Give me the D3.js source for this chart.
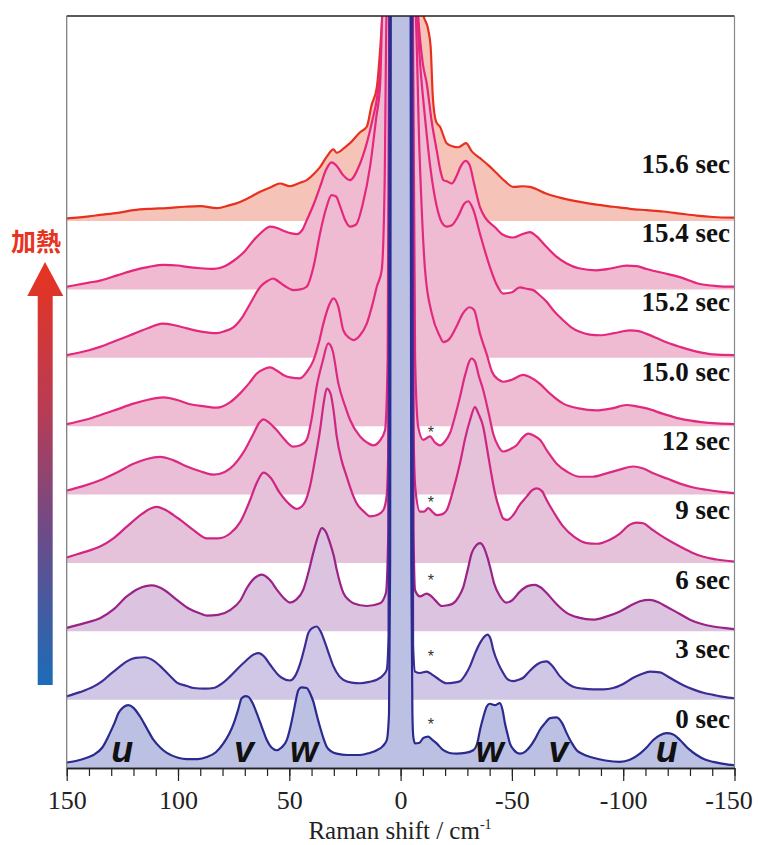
<!DOCTYPE html>
<html><head><meta charset="utf-8">
<script src="https://cdn.jsdelivr.net/npm/d3@7"></script>
<style>body{margin:0;background:#fff}svg{display:block}</style>
</head><body>
<svg id="chart" width="758" height="845"></svg>
<script>
// ---- data ----
const timeLabels = ["0 sec","3 sec","6 sec","9 sec","12 sec","15.0 sec","15.2 sec","15.4 sec","15.6 sec"];
const traceOffsets = [0,10,20,30,40,50,60,70,80];
const majorTicks = [150,100,50,0,-50,-100,-150];
const minorTicks = [150,140,130,120,110,100,90,80,70,60,50,40,30,20,10,0,-10,-20,-30,-40,-50,-60,-70,-80,-90,-100,-110,-120,-130,-140,-150];
const bandLabels = [["u",125.1],["v",70.3],["w",43.4],["w",-40.1],["v",-70.9],["u",-119.6]];
const starX = -13.6;
const starHeights = [6.3,6.3,7.5,8.9,9.1]; // for 0,3,6,9,12 sec

const spec0 = [[150,0.8],[145,1.1],[141,1.5],[138,1.9],[134,3.0],[130.6,5.1],[128.5,6.6],[126.8,8.0],[124.5,8.9],[122.3,9.2],[120,8.8],[117,7.5],[114,5.8],[111,4.1],[108,3.0],[105,2.2],[100,1.5],[96,1.3],[91,1.3],[87,1.6],[83,2.3],[79.6,3.6],[77,5.0],[75,6.5],[73,8.5],[71.4,10.2],[69.5,10.5],[68.4,10.4],[66.5,9.5],[64.6,8.0],[62,5.7],[60.1,4.1],[58,3.0],[55.6,2.6],[53.5,3.0],[51.1,4.1],[49.5,6.0],[48.2,8.0],[47,10.0],[45.9,11.4],[44.5,11.8],[42.2,11.7],[40.5,10.8],[39.2,9.7],[37.7,7.8],[36.2,6.0],[34.5,4.2],[33.2,3.1],[31,2.4],[28.7,2.1],[24,1.9],[18.2,1.9],[14,2.2],[10.7,2.6],[8,3.2],[6.2,4.1],[5.2,8],[4.7,30],[4.4,112],[0,120],[-4.5,112],[-4.8,30],[-5.3,8],[-5.7,4.6],[-6.5,3.6],[-8.5,3.7],[-10.2,4.4],[-12.4,4.6],[-14,4.2],[-16.2,3.6],[-19.2,2.6],[-22,2.2],[-25.2,2.1],[-29,2.2],[-32.6,2.6],[-34.5,3.7],[-35.7,5.6],[-37.2,7.5],[-38.7,9.0],[-40.1,9.4],[-42.4,9.2],[-44.6,9.5],[-45.8,8.5],[-46.9,6.5],[-48,5.0],[-49.1,3.6],[-51,2.6],[-53.6,2.1],[-56,2.4],[-58.1,3.1],[-60.5,4.3],[-62.6,5.6],[-65,6.6],[-67.1,7.3],[-70.1,7.4],[-72.5,6.6],[-74.6,5.1],[-77,3.6],[-79.1,2.6],[-82,2.0],[-86.5,1.5],[-92,1.1],[-98.5,0.9],[-103,1.2],[-107.5,2.1],[-110.5,3.0],[-113.5,4.1],[-116.5,4.8],[-119.5,5.1],[-122.5,4.9],[-125.5,4.1],[-129,2.9],[-133,1.9],[-137,1.2],[-140.4,0.9],[-145,0.6],[-150,0.4]];
const spec3 = [[150,0.5],[144,1.1],[138,1.9],[134,2.7],[130.5,3.7],[127,4.6],[123,5.6],[119,6.1],[115,6.2],[111,5.7],[108,4.9],[104,3.6],[100.5,2.5],[96,2.0],[93,1.7],[88,1.6],[84,1.7],[80,2.4],[76.6,3.4],[73,4.6],[69.1,5.8],[66,6.6],[63.9,6.8],[61,6.2],[58.6,5.1],[55.5,3.8],[53.4,3.2],[49.7,2.8],[47.5,3.4],[45.2,5.2],[43,7.8],[41.4,9.8],[39.5,10.5],[37.7,10.7],[35.8,9.9],[33.9,8.3],[32,6.5],[30.2,4.9],[27.5,3.4],[25.7,2.9],[22,2.5],[18.2,2.4],[14,2.6],[10.7,2.9],[7.5,3.7],[6.2,4.4],[5.4,9.3],[4.9,102],[0,110],[-5.1,102],[-5.6,8],[-6.5,4.1],[-8.7,3.9],[-11.7,4.1],[-14,3.7],[-16.2,3.2],[-20.7,2.4],[-24,2.5],[-26.7,2.7],[-29,3.6],[-31.2,4.9],[-33.5,6.8],[-35.7,8.3],[-37.9,9.3],[-39,9.5],[-40.5,8.8],[-41.6,7.3],[-44,5.2],[-46.1,3.9],[-48,3.0],[-50.6,2.7],[-53,2.9],[-55.1,3.2],[-58,4.2],[-61.1,5.1],[-63.5,5.5],[-65.6,5.6],[-68,5.0],[-71.6,3.4],[-74.5,2.5],[-77.5,1.9],[-82,1.6],[-86.5,1.5],[-91,1.5],[-95.5,1.7],[-100,2.3],[-104.5,3.2],[-108,3.7],[-112,4.1],[-116.5,4.0],[-119.5,3.5],[-122.5,2.9],[-127,2.1],[-131.4,1.5],[-136,1.0],[-140.4,0.7],[-145,0.4],[-150,0.2]];
const spec6 = [[150,0.5],[142,1.2],[135,1.9],[129,3.2],[123,5.1],[118,6.2],[114.5,6.6],[111.8,6.7],[109,6.5],[106,6.0],[100.5,4.6],[95,3.3],[90,2.6],[87,2.3],[82,2.4],[76.6,3.1],[72,4.5],[69.1,6.3],[65.5,7.8],[62.4,8.3],[59,7.6],[55.6,6.1],[52,4.7],[49.7,4.2],[47,4.6],[43.7,6.1],[41.5,8.5],[39.2,11.5],[37,14.0],[35.4,15.1],[33.5,14.5],[31.7,12.9],[30,11],[28.7,9.0],[25.7,5.6],[23,4.5],[21.2,4.1],[15.2,3.7],[9.2,4.1],[6.6,5.6],[5.5,15],[5.0,92],[0,100],[-5.2,92],[-5.8,15],[-6.5,6.0],[-8.7,5.1],[-11.7,5.5],[-13.5,5.2],[-15.4,4.6],[-18.5,3.7],[-21,3.8],[-23.7,4.1],[-26,5.0],[-28.2,6.5],[-30,8.8],[-31.9,11.4],[-34,12.6],[-35.7,12.9],[-37.5,12.2],[-39,10.8],[-40.5,9.0],[-42,7.0],[-44.5,5.2],[-47.6,4.2],[-50,4.5],[-53.6,5.8],[-57,6.6],[-60.4,6.8],[-63,6.4],[-65.6,5.6],[-70,4.0],[-74.6,2.7],[-80,2.0],[-86.5,1.7],[-92,2.1],[-98.5,2.9],[-103,3.7],[-107.5,4.4],[-112,4.6],[-116,4.2],[-119.5,3.6],[-125,2.6],[-130,1.7],[-135,1.1],[-140.4,0.7],[-145,0.5],[-150,0.3]];
const spec9 = [[150,0.8],[145,1.3],[140,1.8],[135,2.4],[129,3.6],[123,5.3],[116,7.2],[112,8.0],[109.5,8.2],[106,7.8],[102,7.0],[99,6.3],[93,4.8],[87,3.6],[82,3.6],[76.6,4.3],[72,6.0],[67.6,9.2],[64.5,11.8],[61.6,13.2],[58.5,12.5],[54.2,10.2],[50,8.6],[46.7,7.9],[43.5,8.6],[40.7,11.2],[38.5,15.0],[36.2,19.4],[34.5,23.5],[33.2,25.5],[31.5,24.8],[30,22],[28.7,18.5],[26.5,15.0],[24.2,12.6],[21.5,10.0],[19.7,8.7],[16.5,7.5],[13.7,6.8],[10.5,7.0],[7.8,7.7],[6.2,10],[5.4,20],[4.9,82],[0,90],[-5.2,82],[-5.8,20],[-6.6,11],[-8.7,7.5],[-10.5,7.5],[-12.4,8.0],[-14.5,7.4],[-16.2,7.0],[-18.5,7.1],[-20.7,7.7],[-23.5,10.5],[-26.7,14.6],[-29,18.2],[-31.2,20.9],[-33.4,22.8],[-35,21.8],[-37.1,19.9],[-38.7,17.0],[-40.5,13.5],[-42.4,10.2],[-44.5,7.8],[-46.1,6.5],[-48,6.3],[-50.6,7.0],[-53.5,8.5],[-56.6,9.7],[-59,10.6],[-61.1,10.9],[-63.5,10.5],[-65.6,9.2],[-69,7.3],[-73.1,5.3],[-78,3.8],[-83.6,2.9],[-88,2.8],[-94,3.4],[-98.5,4.3],[-103,5.6],[-106,5.9],[-109,5.8],[-112.5,5.0],[-116.5,4.1],[-121,3.2],[-125.5,2.4],[-131,1.5],[-136,0.9],[-142,0.5],[-150,0.2]];
const spec12 = [[150,0.6],[143,1.2],[135,2.1],[127,3.3],[120,4.5],[114,5.2],[108,5.5],[102,5.0],[96,4.1],[90,3.4],[84,2.9],[79,3.3],[75,4.3],[70,6.5],[66.1,8.9],[63.5,10.5],[61.6,11.0],[59,10.5],[55.6,9.4],[52,8.0],[48.2,7.0],[45,7.2],[42.2,8.0],[40,11],[37.7,15.8],[35,19.5],[32.5,22.1],[30.5,21.0],[28,16.3],[25,13.0],[22.7,10.9],[18.2,8.5],[15,7.6],[12.3,7.2],[9.5,7.8],[7,9.4],[5.8,20],[5.1,72],[0,80],[-5.5,72],[-6.5,20],[-7.9,9.9],[-10.2,8.0],[-13.2,8.5],[-15.5,7.6],[-17.7,7.2],[-20,7.8],[-22.2,9.0],[-24.5,11.5],[-26.7,14.3],[-29,17.5],[-31.9,19.9],[-33.5,19.4],[-35,17.5],[-37.1,15.3],[-39.5,12.0],[-41.6,8.9],[-44,7.0],[-46.1,6.3],[-49,6.6],[-52.1,7.2],[-55,8.4],[-57.3,8.9],[-60,8.6],[-62.6,8.0],[-66,6.3],[-70.1,4.5],[-75,3.3],[-80.5,2.6],[-86,2.6],[-92.5,3.1],[-98,3.6],[-104.5,4.1],[-109,3.8],[-113.5,3.1],[-120,2.3],[-125.5,1.6],[-132,1.0],[-137.5,0.7],[-144,0.4],[-150,0.2]];
const spec150 = [[150,0.3],[142,0.9],[135,1.6],[127,2.5],[120,3.3],[113,3.9],[106.6,4.2],[100,3.8],[94.6,3.2],[88,2.9],[82.6,2.7],[77,3.4],[72.1,4.8],[68,6.3],[64.6,7.7],[61,8.4],[58.6,8.6],[55.5,8.1],[52.7,7.5],[49,7.1],[45.2,7.0],[42,8.0],[39.2,9.6],[36.5,12.5],[34.7,15.0],[32,17.8],[30.2,18.7],[28,17.5],[25.7,14.0],[23,12.9],[21.2,12.6],[18.5,13.2],[15.2,15.0],[12.5,18.0],[10.7,20.4],[8.5,22.8],[7.2,35],[6.2,62],[0,70],[-6.5,62],[-8.5,40],[-11,22.8],[-14,16.5],[-17.7,13.1],[-19.2,12.3],[-22,12.8],[-25,14.5],[-28,16.5],[-31,17.4],[-33,17.0],[-35.7,13.5],[-38.7,10.5],[-41,8.0],[-44,6.8],[-46.1,6.5],[-50,6.8],[-55.1,7.5],[-58,7.2],[-62.6,6.2],[-67,4.8],[-73.1,3.3],[-80,2.6],[-88,2.3],[-95,2.6],[-101.5,3.1],[-106,2.9],[-110.5,2.6],[-118,1.8],[-125.5,1.1],[-135,0.6],[-142,0.4],[-150,0.3]];
const spec152 = [[150,0.4],[140,1.1],[135,1.6],[127,2.6],[120,3.5],[113,4.4],[107,5.0],[102,4.8],[96,4.3],[89,3.8],[82.6,3.6],[79,3.9],[75,4.5],[71,6.0],[67.6,7.9],[63,10.4],[60,11.2],[57.2,11.6],[55,11.2],[52,10.5],[48.2,9.9],[45,10.0],[42.2,10.4],[39,13.5],[36.2,18.2],[33.5,21.8],[31,23.8],[29,23.6],[27,22.0],[25,20.2],[22.7,19.2],[20,19.5],[17,22.5],[13.7,28],[11,35],[9.2,40],[8.0,52],[0,60],[-6.8,52],[-9,42],[-11,35],[-13.5,27.5],[-16,22.5],[-18.5,19.8],[-20.7,19.2],[-23,19.4],[-26,20.8],[-28.5,22.5],[-30.4,22.9],[-32.5,21.8],[-35.7,18.1],[-38,15.5],[-40.1,13.3],[-43,10.8],[-46.1,9.4],[-50,9.6],[-53.6,10.3],[-56.6,10.1],[-59.6,9.9],[-62,9.3],[-65.6,8.2],[-69,6.8],[-73,5.5],[-76.5,4.5],[-80.5,3.8],[-85,3.4],[-89.5,3.3],[-96,3.6],[-103,4.0],[-107,3.9],[-110.5,3.5],[-115,2.9],[-120,2.2],[-125.5,1.6],[-133,0.9],[-140.4,0.5],[-150,0.4]];
const spec154 = [[150,0.4],[140,1.0],[135,1.3],[127,2.1],[120,2.8],[113,3.3],[106.6,3.6],[100,3.5],[96,3.3],[90,3.1],[84,3.0],[79,3.4],[75,4.2],[70,5.6],[66,7.2],[62,8.5],[58.6,9.2],[55.5,9.0],[52.7,8.6],[49,8.2],[46.7,8.1],[44,8.8],[42.2,10.1],[39,12.5],[36.2,15.0],[33.5,17.5],[31,18.6],[28.5,18.0],[26,16.8],[22.7,16.0],[19,17.8],[15.2,21.4],[12.5,25],[10.7,27.8],[8.5,35.1],[7.5,42],[0,50],[-7,45],[-7.9,40],[-10,33],[-11.7,30.2],[-14,24.5],[-16.2,20.4],[-18,17.2],[-19.2,16.0],[-21,15.8],[-23,15.5],[-25,16.5],[-27,18.0],[-29.2,18.8],[-31,18.2],[-33,15.5],[-35.7,12.0],[-38,10.5],[-42.4,9.1],[-46,8.0],[-50.6,7.6],[-54,8.0],[-58.1,8.4],[-61,7.8],[-65.6,6.2],[-70,4.8],[-74.6,3.8],[-80,3.1],[-88,2.8],[-95,3.1],[-101.5,3.5],[-106,3.4],[-110.5,3.0],[-118,2.4],[-125.5,1.8],[-134.4,0.8],[-142,0.5],[-150,0.4]];
const spec156 = [[150,0.4],[140,0.7],[135,0.9],[127,1.2],[120,1.6],[112,1.8],[105,1.9],[97,2.1],[90,2.2],[82.6,1.9],[77,2.3],[72.1,2.8],[67,3.6],[63.1,4.3],[58,5.0],[54.2,5.5],[49.7,5.1],[45.2,5.6],[42.2,6.0],[39,6.9],[36.2,7.9],[33,9.5],[30.2,10.5],[28.7,10.0],[25,10.8],[22.7,11.4],[18.2,13.0],[15.2,13.8],[13,17.0],[10.7,19.5],[9.2,25],[8,31],[6,36],[0,40],[-8,36],[-10,30.5],[-12.4,28.0],[-13.5,25.5],[-14.5,18],[-16,14.5],[-17.7,13.8],[-20.7,11.4],[-23.7,10.9],[-26,10.8],[-29.4,11.4],[-32,10.2],[-35.7,9.2],[-40,8.0],[-43.2,7.0],[-47,5.8],[-50.6,5.0],[-55,5.1],[-58.1,5.0],[-65.6,4.0],[-72,3.4],[-80.6,2.8],[-88,2.4],[-95.5,2.1],[-103,1.8],[-110.5,1.6],[-118,1.4],[-125.5,1.1],[-133,0.8],[-140.4,0.6],[-150,0.5]];
const spectra = [spec0,spec3,spec6,spec9,spec12,spec150,spec152,spec154,spec156];

// ---- styles ----
const lineColors = ["#2b2a8f","#3a2d95","#9b2388","#cf2683","#dc2a82","#e2297e","#e4287c","#e5267a","#e8301f"];
const fillColors = ["#bcc0e3","#d0c6e5","#dcc3e0","#e5c1da","#eabed6","#eebcd3","#efbbd2","#f0bad0","#f6c3b9"];

const svg = d3.select("#chart");
const x = d3.scaleLinear().domain([150,-150]).range([66.7,734.5]);
const y = d3.scaleLinear().domain([0,110]).range([768,16]);

const defs = svg.append("defs");
defs.append("clipPath").attr("id","plotclip")
  .append("rect").attr("x",x(150)).attr("y",y(110)).attr("width",x(-150)-x(150)).attr("height",y(0)-y(110));

const grad = defs.append("linearGradient").attr("id","heatgrad")
  .attr("x1","0").attr("y1","1").attr("x2","0").attr("y2","0");
grad.append("stop").attr("offset","0").attr("stop-color","#1c6cb8");
grad.append("stop").attr("offset","0.35").attr("stop-color","#6a4c8a");
grad.append("stop").attr("offset","0.65").attr("stop-color","#b83c55");
grad.append("stop").attr("offset","1").attr("stop-color","#e8331f");

const plot = svg.append("g").attr("clip-path","url(#plotclip)");

for (let i = spectra.length - 1; i >= 0; i--) {
  const data = spectra[i].slice().sort((a,b)=>b[0]-a[0]);
  const off = traceOffsets[i];
  const area = d3.area().x(d=>x(d[0])).y0(y(off)).y1(d=>y(off+d[1])).curve(d3.curveMonotoneX);
  const line = d3.line().x(d=>x(d[0])).y(d=>y(off+d[1])).curve(d3.curveMonotoneX);
  plot.append("path").attr("d",area(data)).attr("fill",fillColors[i]);
  plot.append("path").attr("d",line(data)).attr("fill","none")
    .attr("stroke",lineColors[i]).attr("stroke-width",2.2).attr("stroke-linejoin","round");
}

// asterisks
starHeights.forEach((h,i)=>{
  svg.append("text").attr("x",x(starX)).attr("y",y(traceOffsets[i]+h))
    .attr("text-anchor","middle").attr("dominant-baseline","central")
    .attr("font-family","Liberation Sans, sans-serif").attr("font-size",16)
    .attr("fill","#333").text("*");
});

// band labels u v w
bandLabels.forEach(([t,v])=>{
  svg.append("text").attr("x",x(v)).attr("y",762).attr("text-anchor","middle")
    .attr("font-family","Liberation Sans, Arial, sans-serif").attr("font-weight","bold")
    .attr("font-style","italic").attr("font-size",36).attr("fill","#111").text(t);
});

// time labels
timeLabels.forEach((t,i)=>{
  svg.append("text").attr("x",730).attr("y",y(traceOffsets[i]+5.9+0.15*i))
    .attr("text-anchor","end").attr("font-family","Liberation Serif, Times New Roman, serif")
    .attr("font-weight","bold").attr("font-size",27).attr("fill","#111").text(t);
});

// frame
svg.append("line").attr("x1",x(150)).attr("x2",x(-150)).attr("y1",16).attr("y2",16).attr("stroke","#222").attr("stroke-width",1.5);
svg.append("line").attr("x1",x(150)).attr("x2",x(150)).attr("y1",16).attr("y2",768).attr("stroke","#777").attr("stroke-width",1.2);
svg.append("line").attr("x1",x(-150)).attr("x2",x(-150)).attr("y1",16).attr("y2",768).attr("stroke","#888").attr("stroke-width",1.2);

// axes
const minorAxis = d3.axisBottom(x).tickValues(minorTicks).tickSize(8).tickSizeOuter(0).tickFormat("");
const gMinor = svg.append("g").attr("transform","translate(0,768)").call(minorAxis);
const majorAxis = d3.axisBottom(x).tickValues(majorTicks).tickSize(13).tickSizeOuter(0).tickFormat(d=>String(d));
const gMajor = svg.append("g").attr("transform","translate(0,768)").call(majorAxis);
[gMinor,gMajor].forEach(g=>{
  g.select(".domain").attr("stroke","#222").attr("stroke-width",1.3);
  g.selectAll(".tick line").attr("stroke","#222").attr("stroke-width",1.2);
});
gMajor.selectAll("text").attr("y",41).attr("dy",0)
  .attr("font-family","Liberation Serif, Times New Roman, serif").attr("font-size",26).attr("fill","#222")
  .attr("dx", d => d === -150 ? -6 : 0);

const title = svg.append("text").attr("x",400).attr("y",839).attr("text-anchor","middle")
  .attr("font-family","Liberation Serif, Times New Roman, serif").attr("font-size",25).attr("fill","#222");
title.append("tspan").text("Raman shift / cm");
title.append("tspan").attr("dy",-10).attr("font-size",14).text("-1");

// heating arrow
svg.append("path")
  .attr("d", "M37.7,685 L37.7,296 L27.3,296 L45,262 L63.3,296 L52.7,296 L52.7,685 Z")
  .attr("fill","url(#heatgrad)");
svg.append("text").attr("x",36).attr("y",251).attr("text-anchor","middle")
  .attr("font-family","Noto Sans CJK JP, sans-serif").attr("font-weight","bold")
  .attr("font-size",25).attr("fill","#e8331f").text("加熱");
</script>
</body></html>
